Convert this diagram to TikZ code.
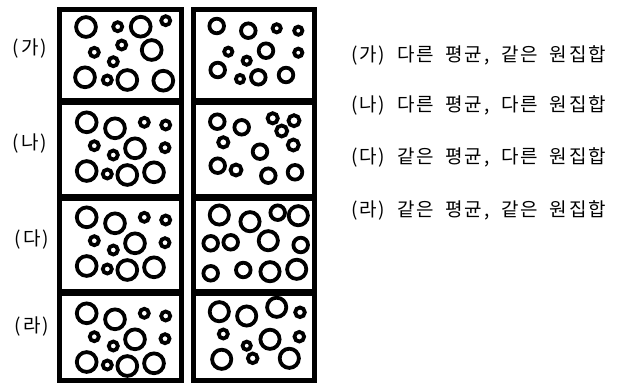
\documentclass[tikz,border=0pt]{standalone}
\usepackage{fontspec}
\newfontfamily\kr[LetterSpace=10]{Noto Sans CJK KR}
\newcommand\descfont{\kr\fontsize{19}{19}\selectfont\spaceskip=11.7pt plus 0pt\relax}
\begin{document}
\begin{tikzpicture}[x=1pt,y=-1pt,
  frame/.style={line width=4.6pt},
  divider/.style={line width=7pt},
  ring/.style={line width=3.8pt},
  lbl/.style={font=\kr\fontsize{19}{19}\selectfont, inner sep=0pt},
  desc/.style={font=\descfont, inner sep=0pt, anchor=west}]
\useasboundingbox (0,0) rectangle (621,385);
% frames
\draw[frame] (59.3,9.3) rectangle (181.7,380.7);
\draw[frame] (193.3,9.3) rectangle (314.7,380.7);
\foreach \yy in {101.5,197.5,292} {
  \draw[divider] (57,\yy) -- (184,\yy);
  \draw[divider] (191,\yy) -- (317,\yy);
}
% left row 1
\foreach \x/\y/\r in {86/27/11.8, 117.7/26.7/6.4, 140.7/26.7/11.8, 165.7/20.7/6.4,
  94.3/52.3/6.4, 121.7/45/6.4, 151.7/50/11.8, 113.3/61.7/6.4,
  85/77.3/11.8, 107.3/80/6.4, 127.3/80/11.8, 163.3/80.7/11.8}
  {\draw[ring] (\x,\y) circle[radius={(\r-1.9)*1pt}];}
% left rows 2-4
\foreach \dy in {0,95,191} {
\foreach \x/\y/\r in {86.7/122.3/11.8, 115/128.3/11.8, 144.3/122.3/6.4, 165.7/125/6.4,
  94.3/145.7/6.4, 135/148.3/11.8, 165/147.7/6.4, 113.3/155/6.4,
  86.7/171/11.8, 107.3/174/6.4, 127.3/175/11.8, 154/172.3/11.8}
  {\draw[ring] (\x,\y+\dy) circle[radius={(\r-1.9)*1pt}];}
}
% right row 1
\foreach \x/\y/\r in {216.7/26/9.2, 248.3/30.7/9.2, 276.7/28.3/6, 298.3/30.7/6,
  228.3/51.7/6, 266/50.7/9.2, 298.3/52.7/6, 246.7/60.7/6,
  217.7/70/9.2, 240/79/6, 258.3/77.3/9.2, 286/75/9.2}
  {\draw[ring] (\x,\y) circle[radius={(\r-1.9)*1pt}];}
% right row 2
\foreach \x/\y/\r in {217.3/121.7/9.2, 241.7/127.3/9.2, 272.7/118.3/7, 294/120.7/7.4,
  281.7/131/7.4, 223.3/142.3/7, 260/151.7/9.2, 293.3/145/7.4,
  217.7/165.7/9.2, 236/170/7.4, 268.3/175.7/9.2, 295/172.3/9.2}
  {\draw[ring] (\x,\y) circle[radius={(\r-1.9)*1pt}];}
% right row 3
\foreach \x/\y/\r in {219.3/215/11.5, 250/221.7/11.5, 277.7/212.7/9.2, 298.3/215.7/11.5,
  210.7/243.3/9.2, 230.7/242.3/9.2, 268.3/240.7/11.5, 300.7/245/9.2,
  210.7/273.3/9.2, 243.3/270/9.2, 270/271.7/11.5, 296.7/269.3/11.5}
  {\draw[ring] (\x,\y) circle[radius={(\r-1.9)*1pt}];}
% right row 4
\foreach \x/\y/\r in {219.3/311.7/11.5, 246.7/316/11.5, 276.7/307.3/11.5, 300/312.3/6.7,
  223.3/334/6.4, 270/339.3/11.5, 299.3/336.7/6.7, 246.7/345.7/6,
  252.7/358.3/6.7, 221.7/359.3/11.5, 289.3/358.3/11.5}
  {\draw[ring] (\x,\y) circle[radius={(\r-1.9)*1pt}];}
% left labels
\node[lbl] (la) at (30,49) {(가)};
\node[lbl] (lb) at (30,144) {(나)};
\node[lbl] (lc) at (32,240) {(다)};
\node[lbl] (ld) at (32,327) {(라)};
% descriptions
\node[desc] (da) at (351,55) {(가) 다른 평균, 같은 원집합};
\node[desc] (db) at (351,105) {(나) 다른 평균, 다른 원집합};
\node[desc] (dc) at (351,157) {(다) 같은 평균, 다른 원집합};
\node[desc] (dd) at (351,210) {(라) 같은 평균, 같은 원집합};
\end{tikzpicture}
\end{document}
